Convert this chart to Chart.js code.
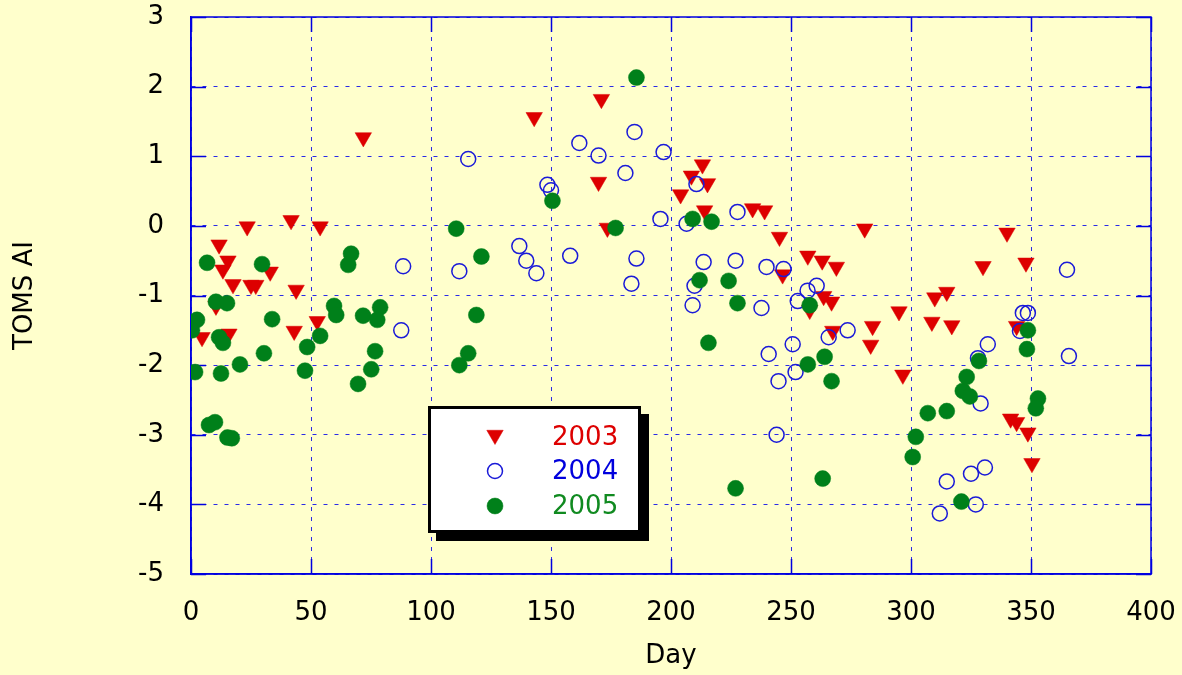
<!DOCTYPE html>
<html><head><meta charset="utf-8">
<script src="https://cdn.jsdelivr.net/npm/chart.js@4.4.0/dist/chart.umd.min.js"></script>
<style>html,body{margin:0;padding:0;background:#ffffcc;}#wrap{width:1182px;height:675px;position:relative;}</style>
</head><body><div id="wrap"><canvas id="c" width="1182" height="675"></canvas></div>
<script>
const xTickValues = [0, 50, 100, 150, 200, 250, 300, 350, 400];
const yTickValues = [-5, -4, -3, -2, -1, 0, 1, 2, 3];
const seriesLabels = ['2003', '2004', '2005'];

const days2003 = [23.4, 41.7, 53.8, 11.7, 15.4, 13.3, 33.0, 17.5, 25.0, 27.0, 43.8, 10.4, 4.6, 15.8, 43.0, 52.6, 71.8,
  171, 143, 169.8, 173.5, 204, 213.1, 208.5, 215.2, 214, 234, 239, 245.2, 280.7, 257, 263, 268.9, 246.5, 263.6, 266.9,
  257.8, 295, 267.4, 284, 283.2, 340, 330, 347.9, 309.9, 314.9, 308.7, 317, 344, 296.6, 341.5, 344, 348.7, 350.4];
const ai2003 = [-0.01, 0.08, -0.01, -0.27, -0.50, -0.63, -0.66, -0.84, -0.85, -0.85, -0.92, -1.15, -1.60, -1.55, -1.51, -1.37, 1.27,
  1.82, 1.56, 0.63, -0.03, 0.45, 0.88, 0.72, 0.61, 0.22, 0.25, 0.22, -0.16, -0.04, -0.43, -0.50, -0.59, -0.70, -1.01, -1.09,
  -1.21, -1.23, -1.51, -1.44, -1.71, -0.10, -0.58, -0.53, -1.03, -0.95, -1.38, -1.43, -1.44, -2.14, -2.77, -2.82, -2.97, -3.41];

const days2004 = [88.4, 87.6, 115.5, 148.5, 150, 161.8, 169.8, 184.8, 196.9, 181, 195.6, 111.8, 136.8, 139.7, 143.9, 158,
  185.6, 183.5, 210.6, 206.5, 227.7, 213.6, 226.9, 209.8, 209, 239.8, 246.9, 237.7, 252.8, 256.9, 260.7, 265.7, 273.6,
  250.7, 240.7, 251.9, 244.8, 244, 365, 346.6, 348.7, 345.4, 332, 327.9, 365.8, 329, 330.8, 325, 314.9, 327, 312];
const ai2004 = [-0.58, -1.50, 0.96, 0.59, 0.51, 1.19, 1.01, 1.35, 1.06, 0.76, 0.10, -0.65, -0.29, -0.50, -0.68, -0.43,
  -0.47, -0.83, 0.60, 0.03, 0.20, -0.52, -0.50, -0.86, -1.14, -0.59, -0.62, -1.18, -1.08, -0.93, -0.86, -1.60, -1.50,
  -1.70, -1.84, -2.10, -2.23, -3.00, -0.63, -1.25, -1.25, -1.51, -1.70, -1.90, -1.87, -2.55, -3.47, -3.56, -3.67, -4.00, -4.13];

const days2005 = [6.7, 29.6, 66.7, 65.5, 10.4, 15.0, 2.5, 0.4, 11.7, 13.3, 33.8, 59.6, 60.5, 71.7, 78.8, 77.6, 53.8, 48.4,
  30.4, 20.4, 1.7, 12.5, 47.5, 76.7, 75.1, 69.6, 7.5, 10.0, 15.2, 17.0, 185.6, 150.6, 110.5, 121, 176.9, 118.9, 115.5,
  111.8, 209, 216.9, 211.9, 224, 227.7, 257.8, 215.6, 264, 257, 266.9, 226.9, 263.2, 348.7, 348.3, 328.3, 323.2, 321.6,
  324.5, 352.9, 352, 307, 314.9, 302, 300.7, 321];
const ai2005 = [-0.53, -0.55, -0.40, -0.56, -1.09, -1.11, -1.35, -1.50, -1.60, -1.68, -1.34, -1.15, -1.28, -1.29, -1.17, -1.35, -1.58, -1.74,
  -1.83, -1.99, -2.10, -2.12, -2.08, -1.80, -2.06, -2.27, -2.86, -2.82, -3.04, -3.05, 2.13, 0.36, -0.04, -0.44, -0.03, -1.28, -1.83,
  -2.00, 0.10, 0.06, -0.78, -0.79, -1.11, -1.14, -1.68, -1.88, -1.99, -2.23, -3.77, -3.63, -1.50, -1.77, -1.94, -2.17, -2.37,
  -2.45, -2.48, -2.62, -2.69, -2.66, -3.03, -3.32, -3.96];

const RED = '#dd0000', BLUE = '#1a1ad8', GREEN = '#00801a';
const AXIS = '#0000e0', GRID = '#2a2ae6';
const FONT = 'DejaVu Sans';

function pts(xs, ys) { return xs.map((x, i) => ({x: x, y: ys[i]})); }

const framePlugin = {
  id: 'frame',
  beforeDatasetsDraw(chart) {
    const {ctx, chartArea: a, scales: {x, y}} = chart;
    ctx.save();
    ctx.strokeStyle = AXIS;
    ctx.lineWidth = 1.5;
    ctx.strokeRect(a.left, a.top, a.right - a.left, a.bottom - a.top);
    ctx.beginPath();
    yTickValues.forEach(v => {
      const p = Math.round(y.getPixelForValue(v)) + 0.5;
      ctx.moveTo(a.left, p); ctx.lineTo(a.left + 15, p);
      ctx.moveTo(a.right - 15, p); ctx.lineTo(a.right, p);
    });
    xTickValues.forEach(v => {
      const p = Math.round(x.getPixelForValue(v)) + 0.5;
      ctx.moveTo(p, a.bottom); ctx.lineTo(p, a.bottom - 15);
      ctx.moveTo(p, a.top); ctx.lineTo(p, a.top + 15);
    });
    ctx.stroke();
    ctx.restore();
  }
};

const legendPlugin = {
  id: 'boxLegend',
  afterDraw(chart) {
    const ctx = chart.ctx;
    const bx = 428, by = 406, bw = 213, bh = 127;
    ctx.save();
    ctx.fillStyle = '#000';
    ctx.fillRect(bx + 8, by + 8, bw, bh);
    ctx.fillStyle = '#fff';
    ctx.fillRect(bx, by, bw, bh);
    ctx.strokeStyle = '#000';
    ctx.lineWidth = 3;
    ctx.strokeRect(bx + 1.5, by + 1.5, bw - 3, bh - 3);
    const rows = [437, 471, 506];
    const ds = chart.data.datasets.slice().sort((a, b) => seriesLabels.indexOf(a.label) - seriesLabels.indexOf(b.label));
    ds.forEach((d, i) => {
      ctx.fillStyle = d.backgroundColor;
      ctx.strokeStyle = d.borderColor;
      ctx.lineWidth = d.borderWidth;
      Chart.helpers.drawPoint(ctx, {pointStyle: d.pointStyle, radius: d.pointRadius, rotation: d.rotation || 0, borderWidth: d.borderWidth}, 495, rows[i] + (d.pointStyle === 'triangle' ? -2 : 0));
      ctx.fillStyle = d.labelColor;
      ctx.font = '26px "' + FONT + '"';
      ctx.textBaseline = 'middle';
      ctx.textAlign = 'left';
      ctx.fillText(d.label, 552, rows[i] + 1);
    });
    ctx.restore();
  }
};

new Chart(document.getElementById('c'), {
  type: 'scatter',
  data: {
    datasets: [
      {label: seriesLabels[0], data: pts(days2003, ai2003), pointStyle: 'triangle', rotation: 180, pointRadius: 9.5,
        pointHoverRadius: 9.5, backgroundColor: RED, borderColor: RED, borderWidth: 0.5, labelColor: RED, order: 3},
      {label: seriesLabels[1], data: pts(days2004, ai2004), pointStyle: 'circle', pointRadius: 7.5,
        pointHoverRadius: 7.5, backgroundColor: 'rgba(0,0,0,0)', borderColor: BLUE, borderWidth: 1.5, labelColor: '#0000dd', order: 2},
      {label: seriesLabels[2], data: pts(days2005, ai2005), pointStyle: 'circle', pointRadius: 8,
        pointHoverRadius: 8, backgroundColor: GREEN, borderColor: GREEN, borderWidth: 0.5, labelColor: '#108a20', order: 1}
    ]
  },
  options: {
    responsive: false,
    animation: false,
    layout: {padding: {left: 10, top: 17, right: 31, bottom: 3}},
    plugins: {legend: {display: false}, tooltip: {enabled: false}},
    scales: {
      x: {
        type: 'linear', min: 0, max: 400,
        afterBuildTicks: s => { s.ticks = xTickValues.map(v => ({value: v})); },
        afterFit: s => { s.height = 98; s.paddingLeft = 0; s.paddingRight = 0; },
        ticks: {color: '#000', font: {family: FONT, size: 26}, padding: 24},
        grid: {color: GRID, lineWidth: 1, drawTicks: false},
        border: {display: true, color: AXIS, width: 1.5, dash: [4, 6]},
        title: {display: true, text: 'Day', color: '#000', font: {family: FONT, size: 26}, padding: 0}
      },
      y: {
        type: 'linear', min: -5, max: 3,
        afterBuildTicks: s => { s.ticks = yTickValues.map(v => ({value: v})); },
        afterFit: s => { s.width = 181; s.paddingTop = 0; s.paddingBottom = 0; },
        ticks: {color: '#000', font: {family: FONT, size: 26}, padding: 27},
        grid: {color: GRID, lineWidth: 1, drawTicks: false},
        border: {display: true, color: AXIS, width: 1.5, dash: [4, 7]},
        title: {display: true, text: 'TOMS AI', color: '#000', font: {family: FONT, size: 26}, padding: 0}
      }
    }
  },
  plugins: [framePlugin, legendPlugin]
});
</script></body></html>
